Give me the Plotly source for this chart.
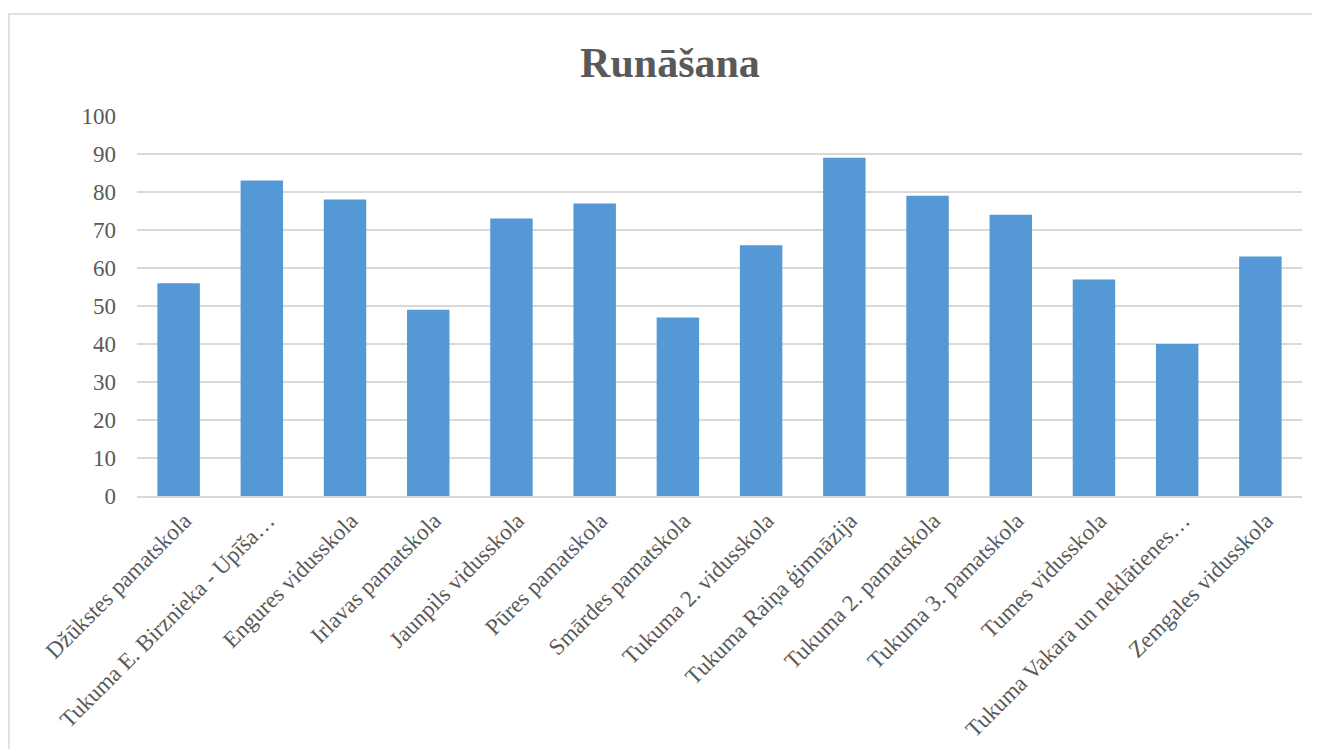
import plotly.graph_objects as go

categories = [
    "Džūkstes pamatskola",
    "Tukuma E. Birznieka - Upīša…",
    "Engures vidusskola",
    "Irlavas pamatskola",
    "Jaunpils vidusskola",
    "Pūres pamatskola",
    "Smārdes pamatskola",
    "Tukuma 2. vidusskola",
    "Tukuma Raiņa ģimnāzija",
    "Tukuma 2. pamatskola",
    "Tukuma 3. pamatskola",
    "Tumes vidusskola",
    "Tukuma Vakara un neklātienes…",
    "Zemgales vidusskola",
]
values = [56, 83, 78, 49, 73, 77, 47, 66, 89, 79, 74, 57, 40, 63]
y_ticks = list(range(0, 101, 10))

FONT = "Liberation Serif, Times New Roman, serif"
GREY = "#595959"

fig = go.Figure()
fig.add_trace(go.Bar(
    x=categories,
    y=values,
    marker=dict(color="#5598D6", line=dict(width=0)),
    width=0.51,
    hoverinfo="x+y",
))

OFF = 8  # browser body margin
W, H = 1320 - OFF, 749 - OFF
L = 137 - OFF
R = 1320 - 1302
T = 116 - OFF
B = H - (496 - OFF)
pw = W - L - R
ph = H - T - B

def px(xp):
    return (xp - OFF - L) / pw

def py(yp):
    return (H - B - (yp - OFF)) / ph

fig.update_layout(
    width=W, height=H,
    margin=dict(l=L, r=R, t=T, b=B, autoexpand=False),
    paper_bgcolor="white",
    plot_bgcolor="white",
    showlegend=False,
    title=dict(
        text="<b>Runāšana</b>",
        font=dict(family=FONT, size=42, color=GREY),
        x=(670 - OFF) / W, xref="container", xanchor="center",
        y=1 - (62 - OFF) / H, yref="container", yanchor="middle",
    ),
    xaxis=dict(
        type="category",
        tickangle=-45,
        tickfont=dict(family=FONT, size=23, color=GREY),
        showgrid=False,
        showline=True,
        linecolor="#D9D9D9",
        linewidth=2,
        ticks="",
        ticklabelstandoff=0,
        ticklabelshift=6,
        automargin=False,
        range=[-0.5, len(categories) - 0.5],
    ),
    yaxis=dict(
        range=[0, 100],
        tickvals=y_ticks,
        tickfont=dict(family=FONT, size=23, color=GREY),
        showgrid=True,
        gridcolor="#D9D9D9",
        gridwidth=1.5,
        zeroline=False,
        showline=False,
        ticks="",
        ticklabelstandoff=20,
        automargin=False,
    ),
    shapes=[
        dict(
            type="rect", xref="paper", yref="paper",
            x0=px(9), x1=px(1345), y0=py(775), y1=py(14),
            line=dict(color="#D9D9D9", width=1.5),
            fillcolor="rgba(0,0,0,0)",
            layer="below",
        )
    ],
)

fig.write_html("out.html")
